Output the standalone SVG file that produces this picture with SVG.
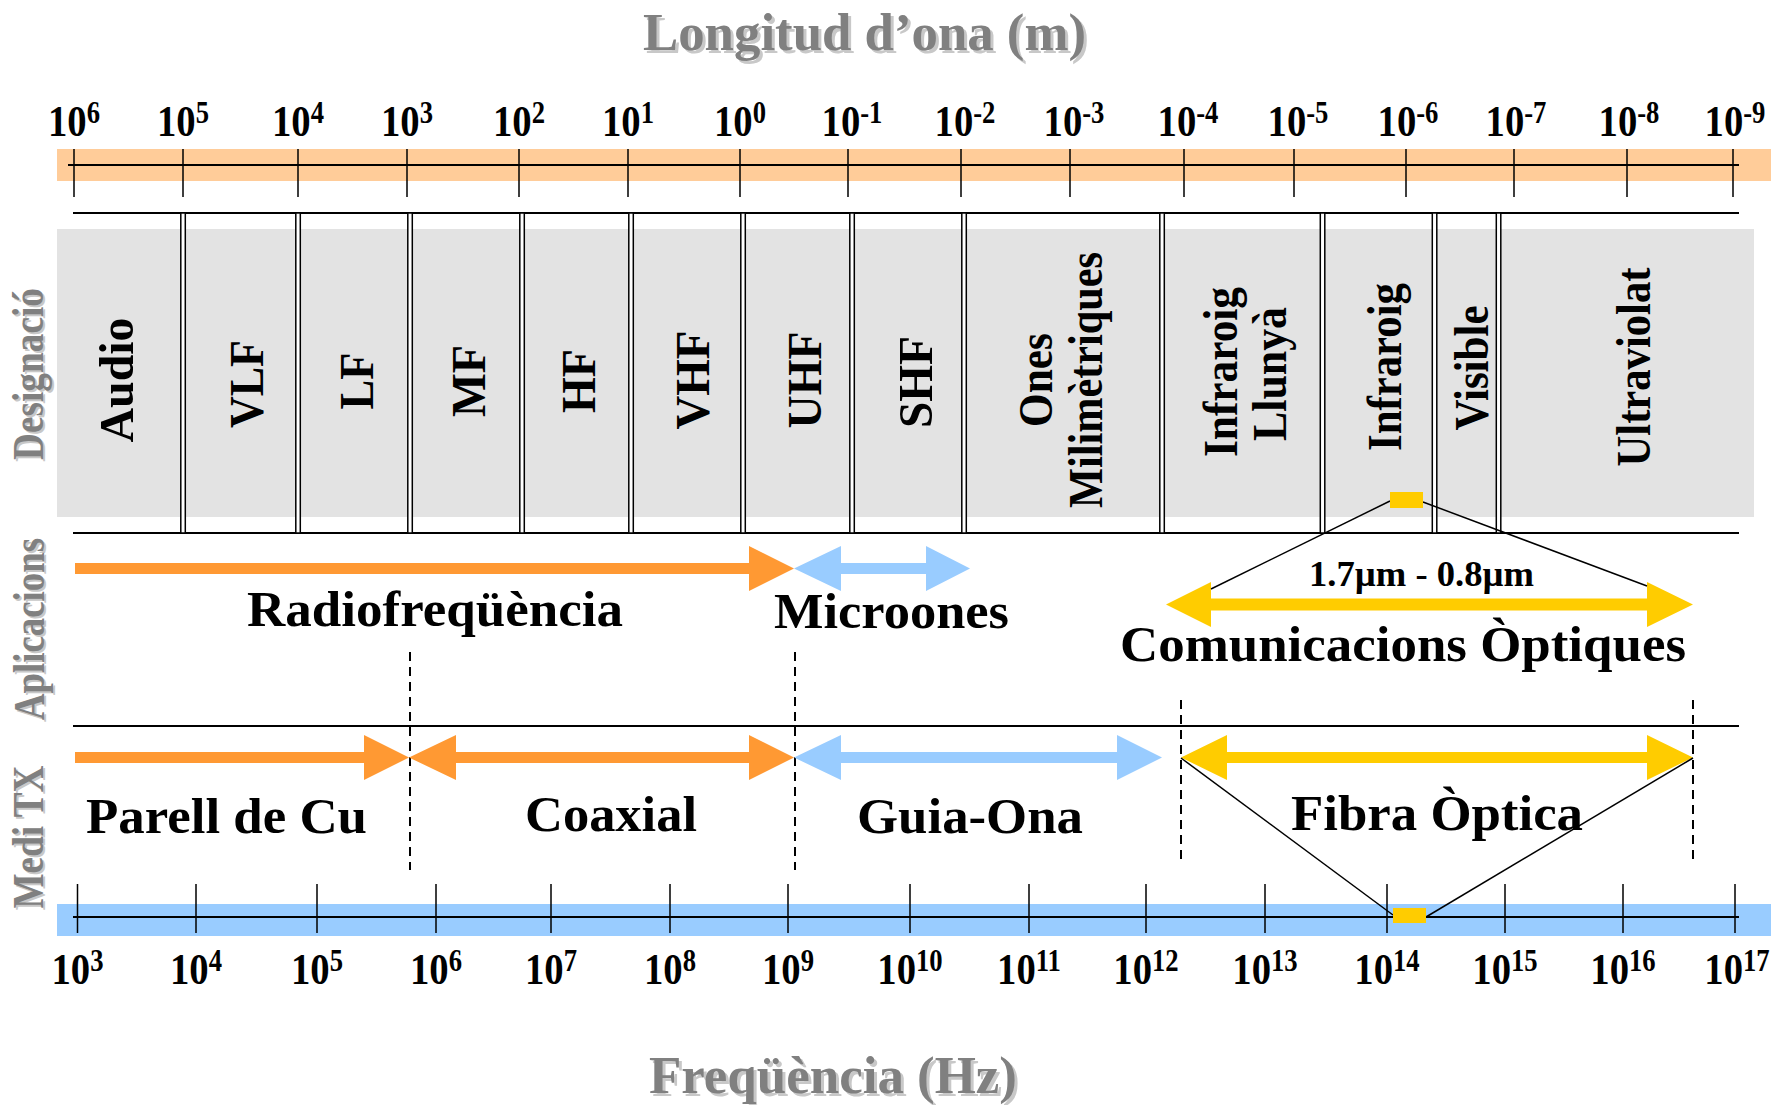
<svg xmlns="http://www.w3.org/2000/svg" width="1776" height="1105" viewBox="0 0 1776 1105">
<style>
.t{font-family:"Liberation Serif","Times New Roman",serif;font-weight:bold;fill:#000}
.lab{font-size:51px}
.small{font-size:35px}
.rot{font-size:49px}
.tick{font-size:45px;text-anchor:middle}
.sup{font-size:31px}
.title{font-size:53px;fill:#808080}
.side{font-size:44px;fill:#808080}
.sh{fill:#c8c8c8}
.hl{stroke:#000;stroke-width:2;fill:none}
.tk{stroke:#000;stroke-width:1.5;fill:none}
.dl{fill:#fff;stroke:#000;stroke-width:1.5}
.dash{stroke:#000;stroke-width:2;stroke-dasharray:9 6;fill:none}
.thin{stroke:#000;stroke-width:1.5;fill:none}
.or{fill:#ff9933}
.bl{fill:#99ccff}
.ye{fill:#ffcc00}
</style>

<g id="titles">
  <text class="t title sh" x="646" y="53" textLength="443" lengthAdjust="spacingAndGlyphs">Longitud d’ona (m)</text>
  <text class="t title" x="643" y="50" textLength="443" lengthAdjust="spacingAndGlyphs">Longitud d’ona (m)</text>
  <text class="t title sh" x="652" y="1096" textLength="368" lengthAdjust="spacingAndGlyphs">Freqüència (Hz)</text>
  <text class="t title" x="649" y="1093" textLength="368" lengthAdjust="spacingAndGlyphs">Freqüència (Hz)</text>
</g>

<g id="side-labels">
  <text class="t side sh" transform="translate(45 376) rotate(-90)" x="-86" y="0" textLength="172" lengthAdjust="spacingAndGlyphs">Designació</text>
  <text class="t side" transform="translate(43 374) rotate(-90)" x="-86" y="0" textLength="172" lengthAdjust="spacingAndGlyphs">Designació</text>
  <text class="t side sh" transform="translate(46 631) rotate(-90)" x="-91" y="0" textLength="182" lengthAdjust="spacingAndGlyphs">Aplicacions</text>
  <text class="t side" transform="translate(44 629) rotate(-90)" x="-91" y="0" textLength="182" lengthAdjust="spacingAndGlyphs">Aplicacions</text>
  <text class="t side sh" transform="translate(45 839) rotate(-90)" x="-71.5" y="0" textLength="143" lengthAdjust="spacingAndGlyphs">Medi TX</text>
  <text class="t side" transform="translate(43 837) rotate(-90)" x="-71.5" y="0" textLength="143" lengthAdjust="spacingAndGlyphs">Medi TX</text>
</g>

<g id="wavelength-axis">
  <rect x="57" y="149" width="1714" height="32" fill="#ffcc99"/>
  <line class="hl" x1="68" y1="165" x2="1739" y2="165"/>
  <path class="tk" d="M74 149V197M183 149V197M298 149V197M407 149V197M519 149V197M628 149V197M740 149V197M848 149V197M961 149V197M1070 149V197M1184 149V197M1294 149V197M1406 149V197M1514 149V197M1627 149V197M1733 149V197"/>
  <g class="t tick">
    <text transform="translate(74 136) scale(0.86 1)">10<tspan class="sup" dy="-13">6</tspan></text>
    <text transform="translate(183 136) scale(0.86 1)">10<tspan class="sup" dy="-13">5</tspan></text>
    <text transform="translate(298 136) scale(0.86 1)">10<tspan class="sup" dy="-13">4</tspan></text>
    <text transform="translate(407 136) scale(0.86 1)">10<tspan class="sup" dy="-13">3</tspan></text>
    <text transform="translate(519 136) scale(0.86 1)">10<tspan class="sup" dy="-13">2</tspan></text>
    <text transform="translate(628 136) scale(0.86 1)">10<tspan class="sup" dy="-13">1</tspan></text>
    <text transform="translate(740 136) scale(0.86 1)">10<tspan class="sup" dy="-13">0</tspan></text>
    <text transform="translate(852 136) scale(0.86 1)">10<tspan class="sup" dy="-13">-1</tspan></text>
    <text transform="translate(965 136) scale(0.86 1)">10<tspan class="sup" dy="-13">-2</tspan></text>
    <text transform="translate(1074 136) scale(0.86 1)">10<tspan class="sup" dy="-13">-3</tspan></text>
    <text transform="translate(1188 136) scale(0.86 1)">10<tspan class="sup" dy="-13">-4</tspan></text>
    <text transform="translate(1298 136) scale(0.86 1)">10<tspan class="sup" dy="-13">-5</tspan></text>
    <text transform="translate(1408 136) scale(0.86 1)">10<tspan class="sup" dy="-13">-6</tspan></text>
    <text transform="translate(1516 136) scale(0.86 1)">10<tspan class="sup" dy="-13">-7</tspan></text>
    <text transform="translate(1629 136) scale(0.86 1)">10<tspan class="sup" dy="-13">-8</tspan></text>
    <text transform="translate(1735 136) scale(0.86 1)">10<tspan class="sup" dy="-13">-9</tspan></text>
  </g>
</g>

<g id="designation-band">
  <rect x="57" y="229" width="1697" height="288" fill="#e3e3e3"/>
  <line class="hl" x1="73" y1="213" x2="1739" y2="213"/>
  <line class="hl" x1="73" y1="533" x2="1739" y2="533"/>
  <rect class="dl" x="180.8" y="213" width="4.5" height="320"/>
  <rect class="dl" x="295.8" y="213" width="4.5" height="320"/>
  <rect class="dl" x="407.8" y="213" width="4.5" height="320"/>
  <rect class="dl" x="519.8" y="213" width="4.5" height="320"/>
  <rect class="dl" x="628.8" y="213" width="4.5" height="320"/>
  <rect class="dl" x="740.8" y="213" width="4.5" height="320"/>
  <rect class="dl" x="849.8" y="213" width="4.5" height="320"/>
  <rect class="dl" x="961.8" y="213" width="4.5" height="320"/>
  <rect class="dl" x="1159.8" y="213" width="4.5" height="320"/>
  <rect class="dl" x="1320.3" y="213" width="4.5" height="320"/>
  <rect class="dl" x="1432.3" y="213" width="4.5" height="320"/>
  <rect class="dl" x="1496.3" y="213" width="4.5" height="320"/>
</g>

<g id="band-audio"><text class="t rot" transform="translate(133 380) rotate(-90)" x="-62.5" textLength="125" lengthAdjust="spacingAndGlyphs">Audio</text></g>
<g id="band-vlf"><text class="t rot" transform="translate(263 384) rotate(-90)" x="-44" textLength="88" lengthAdjust="spacingAndGlyphs">VLF</text></g>
<g id="band-lf"><text class="t rot" transform="translate(373 381) rotate(-90)" x="-28.5" textLength="57" lengthAdjust="spacingAndGlyphs">LF</text></g>
<g id="band-mf"><text class="t rot" transform="translate(485 381) rotate(-90)" x="-36" textLength="72" lengthAdjust="spacingAndGlyphs">MF</text></g>
<g id="band-hf"><text class="t rot" transform="translate(595 381) rotate(-90)" x="-32" textLength="64" lengthAdjust="spacingAndGlyphs">HF</text></g>
<g id="band-vhf"><text class="t rot" transform="translate(709 380) rotate(-90)" x="-49.5" textLength="99" lengthAdjust="spacingAndGlyphs">VHF</text></g>
<g id="band-uhf"><text class="t rot" transform="translate(821 380) rotate(-90)" x="-48.5" textLength="97" lengthAdjust="spacingAndGlyphs">UHF</text></g>
<g id="band-shf"><text class="t rot" transform="translate(932 382) rotate(-90)" x="-46" textLength="92" lengthAdjust="spacingAndGlyphs">SHF</text></g>
<g id="band-mm">
  <text class="t rot" transform="translate(1052 380) rotate(-90)" x="-47" textLength="94" lengthAdjust="spacingAndGlyphs">Ones</text>
  <text class="t rot" transform="translate(1102 380) rotate(-90)" x="-128" textLength="256" lengthAdjust="spacingAndGlyphs">Milimètriques</text>
</g>
<g id="band-far-ir">
  <text class="t rot" transform="translate(1237 372) rotate(-90)" x="-85" textLength="170" lengthAdjust="spacingAndGlyphs">Infraroig</text>
  <text class="t rot" transform="translate(1286 374) rotate(-90)" x="-67" textLength="134" lengthAdjust="spacingAndGlyphs">Llunyà</text>
</g>
<g id="band-ir"><text class="t rot" transform="translate(1401 367) rotate(-90)" x="-84" textLength="168" lengthAdjust="spacingAndGlyphs">Infraroig</text></g>
<g id="band-visible"><text class="t rot" transform="translate(1488 368) rotate(-90)" x="-62.5" textLength="125" lengthAdjust="spacingAndGlyphs">Visible</text></g>
<g id="band-uv"><text class="t rot" transform="translate(1650 367) rotate(-90)" x="-99.5" textLength="199" lengthAdjust="spacingAndGlyphs">Ultraviolat</text></g>

<g id="frequency-axis">
  <rect x="57" y="904" width="1714" height="32" fill="#99ccff"/>
  <line class="hl" x1="73" y1="917" x2="1739" y2="917"/>
  <path class="tk" d="M77.5 884V933M196 884V933M317 884V933M436 884V933M551 884V933M670 884V933M788 884V933M910 884V933M1029 884V933M1146 884V933M1265 884V933M1387 884V933M1505 884V933M1623 884V933M1735 884V933"/>
  <g class="t tick">
    <text transform="translate(77.5 984) scale(0.86 1)">10<tspan class="sup" dy="-13">3</tspan></text>
    <text transform="translate(196 984) scale(0.86 1)">10<tspan class="sup" dy="-13">4</tspan></text>
    <text transform="translate(317 984) scale(0.86 1)">10<tspan class="sup" dy="-13">5</tspan></text>
    <text transform="translate(436 984) scale(0.86 1)">10<tspan class="sup" dy="-13">6</tspan></text>
    <text transform="translate(551 984) scale(0.86 1)">10<tspan class="sup" dy="-13">7</tspan></text>
    <text transform="translate(670 984) scale(0.86 1)">10<tspan class="sup" dy="-13">8</tspan></text>
    <text transform="translate(788 984) scale(0.86 1)">10<tspan class="sup" dy="-13">9</tspan></text>
    <text transform="translate(910 984) scale(0.86 1)">10<tspan class="sup" dy="-13">10</tspan></text>
    <text transform="translate(1029 984) scale(0.86 1)">10<tspan class="sup" dy="-13">11</tspan></text>
    <text transform="translate(1146 984) scale(0.86 1)">10<tspan class="sup" dy="-13">12</tspan></text>
    <text transform="translate(1265 984) scale(0.86 1)">10<tspan class="sup" dy="-13">13</tspan></text>
    <text transform="translate(1387 984) scale(0.86 1)">10<tspan class="sup" dy="-13">14</tspan></text>
    <text transform="translate(1505 984) scale(0.86 1)">10<tspan class="sup" dy="-13">15</tspan></text>
    <text transform="translate(1623 984) scale(0.86 1)">10<tspan class="sup" dy="-13">16</tspan></text>
    <text transform="translate(1737 984) scale(0.86 1)">10<tspan class="sup" dy="-13">17</tspan></text>
  </g>
</g>

<line class="hl" x1="73" y1="726" x2="1739" y2="726"/>

<g id="connectors">
  <line class="dash" x1="410" y1="652" x2="410" y2="870"/>
  <line class="dash" x1="795" y1="652" x2="795" y2="870"/>
  <line class="dash" x1="1181" y1="700" x2="1181" y2="863"/>
  <line class="dash" x1="1693" y1="700" x2="1693" y2="863"/>

  <polygon class="or" points="75,563 749,563 749,546 794,568.5 749,591 749,574 75,574"/>
  <polygon class="bl" points="794,568.5 841,546 841,563 926,563 926,546 970,568.5 926,591 926,574 841,574 841,591"/>
  <polygon class="ye" points="1166,604.5 1211,582 1211,598.5 1647,598.5 1647,582 1693,604.5 1647,627 1647,610.5 1211,610.5 1211,627"/>

  <polygon class="or" points="75,752 364,752 364,735 409,757.5 364,780 364,763 75,763"/>
  <polygon class="or" points="409,757.5 456,735 456,752 749,752 749,735 794,757.5 749,780 749,763 456,763 456,780"/>
  <polygon class="bl" points="794,757.5 841,735 841,752 1117,752 1117,735 1162,757.5 1117,780 1117,763 841,763 841,780"/>
  <polygon class="ye" points="1181,757.5 1227,735 1227,752 1647,752 1647,735 1693,757.5 1647,780 1647,763 1227,763 1227,780"/>

  <line class="thin" x1="1390" y1="501" x2="1211" y2="589"/>
  <line class="thin" x1="1423" y1="502" x2="1647" y2="586"/>
  <line class="thin" x1="1181" y1="758" x2="1393" y2="915"/>
  <line class="thin" x1="1693" y1="758" x2="1426" y2="917"/>
</g>

<g id="ir-marker-top"><rect x="1390" y="492" width="33" height="16" fill="#ffcc00"/></g>
<g id="ir-marker-bottom"><rect x="1393" y="908" width="33" height="15" fill="#ffcc00"/></g>

<g id="app-radiofrequencia"><text class="t lab" x="247" y="626" textLength="376" lengthAdjust="spacingAndGlyphs">Radiofreqüència</text></g>
<g id="app-microones"><text class="t lab" x="774" y="628" textLength="235" lengthAdjust="spacingAndGlyphs">Microones</text></g>
<g id="app-optiques">
  <text class="t small" x="1309" y="586" textLength="225" lengthAdjust="spacingAndGlyphs">1.7µm - 0.8µm</text>
  <text class="t lab" x="1120" y="661" textLength="566" lengthAdjust="spacingAndGlyphs">Comunicacions Òptiques</text>
</g>
<g id="tx-parell"><text class="t lab" x="86" y="833" textLength="281" lengthAdjust="spacingAndGlyphs">Parell de Cu</text></g>
<g id="tx-coaxial"><text class="t lab" x="525" y="831" textLength="172" lengthAdjust="spacingAndGlyphs">Coaxial</text></g>
<g id="tx-guia"><text class="t lab" x="857" y="833" textLength="226" lengthAdjust="spacingAndGlyphs">Guia-Ona</text></g>
<g id="tx-fibra"><text class="t lab" x="1291" y="830" textLength="292" lengthAdjust="spacingAndGlyphs">Fibra Òptica</text></g>
</svg>
